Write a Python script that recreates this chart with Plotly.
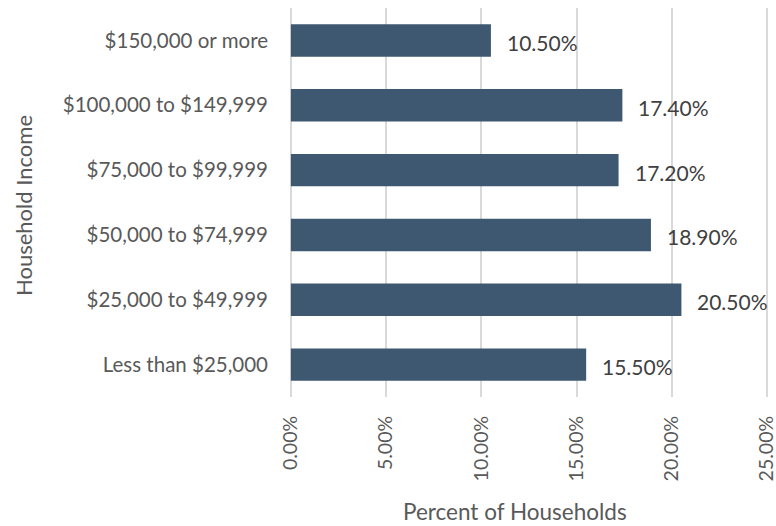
import plotly.graph_objects as go

# Household income distribution
categories = [
    "Less than $25,000",
    "$25,000 to $49,999",
    "$50,000 to $74,999",
    "$75,000 to $99,999",
    "$100,000 to $149,999",
    "$150,000 or more",
]
percents = [15.5, 20.5, 18.9, 17.2, 17.4, 10.5]
tick_vals = [0, 5, 10, 15, 20, 25]
tick_text = ["0.00%", "5.00%", "10.00%", "15.00%", "20.00%", "25.00%"]

FONT = "Lato, 'Open Sans', sans-serif"
TEXT_GRAY = "#595959"
BAR_COLOR = "#3e5871"

# plot area geometry (pixels); the x range is padded slightly on both
# sides so the 0% and 25% grid lines are drawn
L, R, T, B = 289, 6, 8, 129
W, H = 776, 526
PW, PH = W - L - R, H - T - B
X_RANGE = [-0.1, 25.15]


def px_to_paper(px, py):
    return (px - L) / PW, (H - B - py) / PH


fig = go.Figure(
    go.Bar(
        y=categories,
        x=percents,
        orientation="h",
        marker=dict(color=BAR_COLOR, line=dict(width=0)),
        width=0.5,
    )
)

# Value labels to the right of each bar
for cat, val in zip(categories, percents):
    fig.add_annotation(
        x=val, y=cat, text=f"{val:.2f}%", showarrow=False,
        xanchor="left", xshift=14, yshift=-2,
        font=dict(family=FONT, size=21, color="#404040"),
    )

# Axis titles
xt, yt = px_to_paper(515, 511)
fig.add_annotation(
    x=xt, y=yt, xref="paper", yref="paper", text="Percent of Households",
    showarrow=False, xanchor="center", yanchor="middle",
    font=dict(family=FONT, size=22.5, color=TEXT_GRAY),
)
xt, yt = px_to_paper(24, 206)
fig.add_annotation(
    x=xt, y=yt, xref="paper", yref="paper", text="Household Income",
    showarrow=False, xanchor="center", yanchor="middle", textangle=-90,
    font=dict(family=FONT, size=22, color=TEXT_GRAY),
)

fig.update_layout(
    width=W, height=H,
    margin=dict(l=L, r=R, t=T, b=B),
    paper_bgcolor="white", plot_bgcolor="white",
    showlegend=False,
    font=dict(family=FONT, color=TEXT_GRAY),
)
fig.update_xaxes(
    range=X_RANGE, tickvals=tick_vals, ticktext=tick_text,
    tickangle=-90, tickfont=dict(size=19.5, color=TEXT_GRAY), ticklabelstandoff=14,
    ticklabeloverflow="allow", automargin=False,
    showgrid=True, gridcolor="#d9d9d9", gridwidth=1.5,
    zeroline=False, showline=False, ticks="", ticklen=0,
)
fig.update_yaxes(
    categoryorder="array", categoryarray=categories, automargin=False,
    tickfont=dict(size=20.5, color=TEXT_GRAY), ticks="", ticklabelstandoff=20,
    showgrid=False, zeroline=False, showline=False,
)

fig.write_html("out.html")
